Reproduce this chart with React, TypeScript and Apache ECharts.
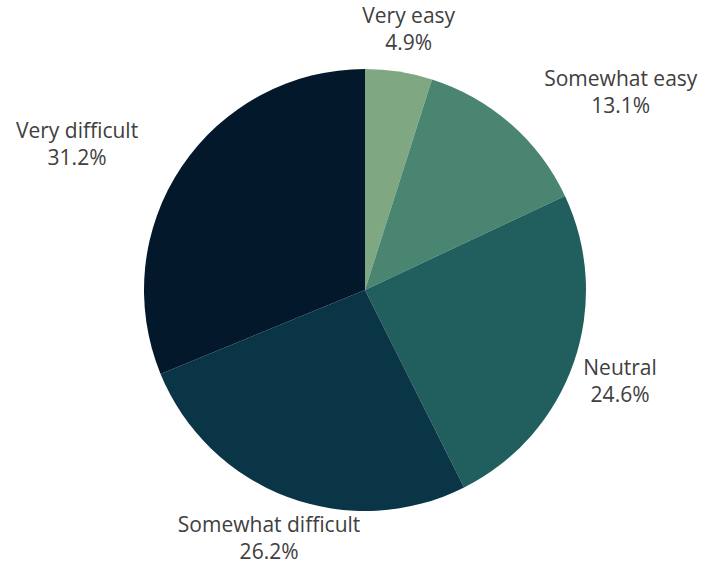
import React, { useEffect, useRef } from "react";
import * as echarts from "echarts";

const categories = ["Very easy", "Somewhat easy", "Neutral", "Somewhat difficult", "Very difficult"];
const values = [4.9, 13.1, 24.6, 26.2, 31.2];
const colors = ["#7fa882", "#4a8571", "#215e5e", "#0a3547", "#03182b"];
// label nudges (style only, pixels)
const labelNudge = [[-6, -6], [27, 2], [0, -3], [49, 4], [-35, 9]];

const CX = 365;
const CY = 290;
const R = 221;

export default function App() {
  const ref = useRef<HTMLDivElement>(null);
  useEffect(() => {
    document.body.style.margin = "0";
    const chart = echarts.init(ref.current!, null, { renderer: "svg" });
    const total = values.reduce((a, b) => a + b, 0);
    const mids: number[] = [];
    let acc = 0;
    values.forEach((v) => {
      mids.push(((acc + v / 2) / total) * Math.PI * 2);
      acc += v;
    });
    const f = (t: number) => Math.max(-1, Math.min(1, t * 2));
    chart.setOption({
      animation: false,
      backgroundColor: "#ffffff",
      series: [
        {
          type: "pie",
          center: [CX, CY],
          radius: [0, R],
          startAngle: 90,
          clockwise: true,
          silent: true,
          itemStyle: { borderWidth: 0 },
          label: {
            show: true,
            position: "outside",
            formatter: (p: any) => `${p.name}\n${p.value.toFixed(1)}%`,
            fontFamily: "Open Sans",
            fontSize: 21,
            lineHeight: 27,
            color: "#404040",
            align: "center",
          },
          labelLine: { show: false, length: 10, length2: 0 },
          labelLayout: (params: any) => {
            const i = params.dataIndex;
            const th = mids[i];
            const s = Math.sin(th);
            const c = Math.cos(th);
            const w = params.labelRect.width;
            const h = params.labelRect.height;
            const px = CX + (R + 10) * s;
            const py = CY - (R + 10) * c;
            return {
              x: px + (w / 2) * f(s) + labelNudge[i][0],
              y: py - (h / 2) * f(c) + labelNudge[i][1],
              align: "center",
              verticalAlign: "middle",
            };
          },
          data: categories.map((name, i) => ({
            name,
            value: values[i],
            itemStyle: { color: colors[i] },
          })),
        },
      ],
    });
    return () => chart.dispose();
  }, []);
  return <div ref={ref} style={{ width: 709, height: 571 }} />;
}
